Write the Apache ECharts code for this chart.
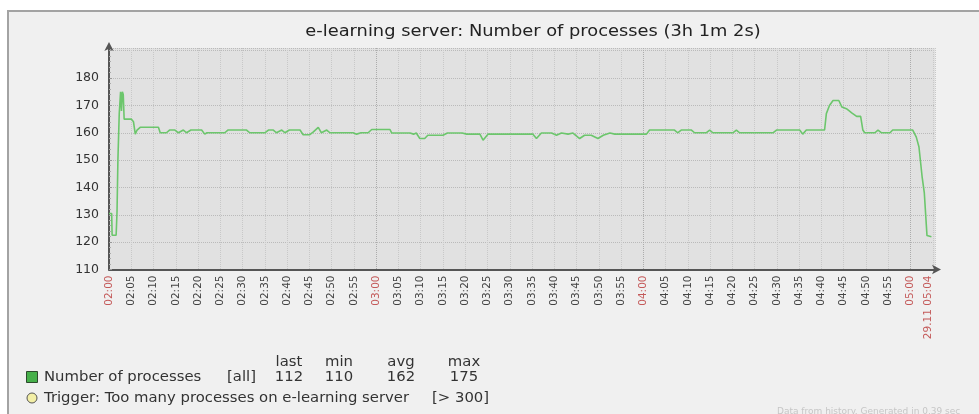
<!DOCTYPE html>
<html>
<head>
<meta charset="utf-8">
<script src="https://cdn.jsdelivr.net/npm/echarts@6/dist/echarts.min.js"></script>
<style>
  html, body { margin: 0; padding: 0; background: #fff; }
  #chart { width: 979px; height: 414px; }
</style>
</head>
<body>
<div id="chart"></div>
<script>
// minutes after 02:00 and the process count
const minutes = [0, 0.6, 0.7, 1.6, 1.8, 2.0, 2.3, 2.6, 2.8, 3.0, 3.2, 3.4, 5.0, 5.5, 5.9, 6.3, 7.0,
  11.1, 11.5, 12.9, 13.6, 14.8, 15.6, 16.7, 17.4, 18.4, 20.8, 21.5, 22.0, 26.0, 26.7, 30.9,
  31.6, 35.0, 35.8, 36.9, 37.6, 38.8, 39.5, 40.5, 42.9, 43.6, 45.1, 45.9, 47.0, 47.7, 48.9,
  49.6, 54.8, 55.6, 56.6, 58.2, 59.0, 63.1, 63.5, 67.6, 68.4, 69.0, 69.8, 70.9, 71.6, 75.0,
  76.0, 79.3, 80.3, 83.3, 84.0, 85.1, 95.2, 96.0, 97.1, 99.4, 100.5, 101.6, 103.1, 104.2,
  105.7, 106.8, 108.3, 109.8, 111.0, 112.5, 113.6, 120.7, 121.4, 127.0, 127.7, 128.5, 130.8,
  131.5, 134.1, 134.9, 135.6, 140.1, 140.9, 141.6, 149.1, 149.9, 155.1, 155.8, 156.6, 160.7,
  161.1, 161.8, 162.6, 163.9, 164.6, 165.6, 166.8, 167.9, 168.8, 169.3, 169.7, 172.0, 172.7,
  173.5, 175.4, 176.0, 180.5, 181.3, 181.9, 182.6, 183.1, 183.7, 184.7];
const processes = [130.5, 130.5, 122.5, 122.5, 131, 150, 167, 175, 168, 175, 174, 165, 165, 164, 159.5, 161, 162,
  162, 160, 160, 161, 161, 160, 161, 160, 161, 161, 159.5, 160, 160, 161, 161,
  160, 160, 161, 161, 160, 161, 160, 161, 161, 159.3, 159.3, 160.3, 162, 160, 161,
  160, 160, 159.5, 160, 160, 161.2, 161.2, 159.9, 159.9, 159.5, 159.9, 157.9, 157.9, 159.1, 159.1,
  159.9, 159.9, 159.5, 159.5, 157.3, 159.5, 159.5, 157.9, 159.9, 159.9, 159.1, 159.9, 159.5, 159.9,
  157.9, 159.1, 159.1, 157.9, 159.1, 159.9, 159.5, 159.5, 161, 161, 160, 161, 161,
  160, 160, 161, 160, 160, 161, 160, 160, 161, 161, 159.5, 161, 161,
  167, 170, 171.8, 171.8, 169.4, 168.8, 167.3, 166, 166, 161, 160, 160, 161,
  160, 160, 161, 161, 158.4, 154.8, 144, 138, 122.4, 122];

const tickMinutes = [0, 5, 10, 15, 20, 25, 30, 35, 40, 45, 50, 55, 60, 65, 70, 75, 80, 85, 90,
  95, 100, 105, 110, 115, 120, 125, 130, 135, 140, 145, 150, 155, 160, 165, 170, 175, 180, 184];
const tickLabels = ['02:00', '02:05', '02:10', '02:15', '02:20', '02:25', '02:30', '02:35', '02:40',
  '02:45', '02:50', '02:55', '03:00', '03:05', '03:10', '03:15', '03:20', '03:25', '03:30', '03:35',
  '03:40', '03:45', '03:50', '03:55', '04:00', '04:05', '04:10', '04:15', '04:20', '04:25', '04:30',
  '04:35', '04:40', '04:45', '04:50', '04:55', '05:00', '29.11 05:04'];
const redLabels = ['02:00', '03:00', '04:00', '05:00', '29.11 05:04'];

const statNames = ['last', 'min', 'avg', 'max'];
const statValues = [112, 110, 162, 175];

const chart = echarts.init(document.getElementById('chart'));

const font = 'DejaVu Sans';
const statX = [289, 339, 401, 464];

// legend text is a bit wider than plain DejaVu in the source picture
function legendText(text, x, y, align) {
  return {
    type: 'text', x: x, y: y, scaleX: 1.06,
    style: { text: text, font: '14px ' + font, fill: '#333', align: align || 'left', verticalAlign: 'middle' }
  };
}

const graphic = [
  {
    type: 'rect', z: -10, silent: true,
    shape: { x: 8, y: 11, width: 1000, height: 500 },
    style: { fill: '#f0f0f0', stroke: '#a3a3a3', lineWidth: 2 }
  },
  {
    type: 'text', x: 533, y: 32, scaleX: 1.15,
    style: { text: 'e-learning server: Number of processes (3h 1m 2s)', font: '15.5px ' + font,
      fill: '#222', align: 'center', verticalAlign: 'middle' }
  },
  {
    type: 'rect', shape: { x: 26.5, y: 371.5, width: 11, height: 11 },
    style: { fill: '#46b04a', stroke: '#2d4a2d', lineWidth: 1 }
  },
  {
    type: 'circle', shape: { cx: 32, cy: 398, r: 5 },
    style: { fill: '#f3efa6', stroke: '#555', lineWidth: 1 }
  },
  legendText('Number of processes', 44, 377),
  legendText('[all]', 227, 377),
  legendText('Trigger: Too many processes on e-learning server', 44, 398),
  legendText('[> 300]', 432, 398),
  {
    type: 'text', x: 777, y: 412,
    style: { text: 'Data from history. Generated in 0.39 sec', font: '9px ' + font,
      fill: '#c6c6c6', verticalAlign: 'middle' }
  }
];
statNames.forEach((name, i) => {
  graphic.push(legendText(name, statX[i], 362, 'center'));
  graphic.push(legendText(String(statValues[i]), statX[i], 377, 'center'));
});

// every 12th split line is an hour line, a little darker
const splitColors = ['#acacac'].concat(new Array(11).fill('#c8c8c8'));

const option = {
  backgroundColor: '#ffffff',
  animation: false,
  textStyle: { fontFamily: font },
  grid: {
    left: 109, right: 44, top: 48, bottom: 144.5,
    show: true, backgroundColor: '#e1e1e1', borderWidth: 0
  },
  xAxis: {
    type: 'value',
    min: 0,
    max: 185.5,
    interval: 5,
    axisLine: {
      show: true, onZero: false,
      lineStyle: { color: '#555', width: 2 },
      symbol: ['none', 'arrow'], symbolSize: [7, 9], symbolOffset: [0, 6]
    },
    axisTick: { show: false },
    splitLine: { show: true, lineStyle: { type: 'dotted', color: splitColors, width: 1 } },
    axisLabel: {
      customValues: tickMinutes,
      rotate: 90,
      margin: 6,
      fontSize: 10.5,
      fontFamily: font,
      color: '#444',
      formatter: (v) => {
        const label = tickLabels[tickMinutes.indexOf(Math.round(v))] || '';
        return redLabels.includes(label) ? '{r|' + label + '}' : label;
      },
      rich: { r: { color: '#c45a5a', fontSize: 10.5, fontFamily: font } }
    }
  },
  yAxis: {
    type: 'value',
    min: 110,
    max: 191,
    interval: 10,
    axisLine: {
      show: true,
      lineStyle: { color: '#555', width: 2 },
      symbol: ['none', 'arrow'], symbolSize: [7, 9], symbolOffset: [0, 6]
    },
    axisTick: { show: true, inside: true, length: 3, lineStyle: { color: '#999' } },
    minorTick: { show: true, splitNumber: 5, length: 2, lineStyle: { color: '#aaa' } },
    splitLine: { show: true, lineStyle: { type: 'dotted', color: '#bababa', width: 1 } },
    axisLabel: {
      margin: 10,
      fontSize: 12.5,
      fontFamily: font,
      color: '#333',
      formatter: (v) => (v > 180 ? '' : String(v))
    }
  },
  series: [
    {
      name: 'Number of processes',
      type: 'line',
      showSymbol: false,
      data: minutes.map((m, i) => [m, processes[i]]),
      lineStyle: { color: '#6cc66c', width: 1.6 },
      itemStyle: { color: '#6cc66c' }
    }
  ],
  graphic: graphic
};

chart.setOption(option);
</script>
</body>
</html>
